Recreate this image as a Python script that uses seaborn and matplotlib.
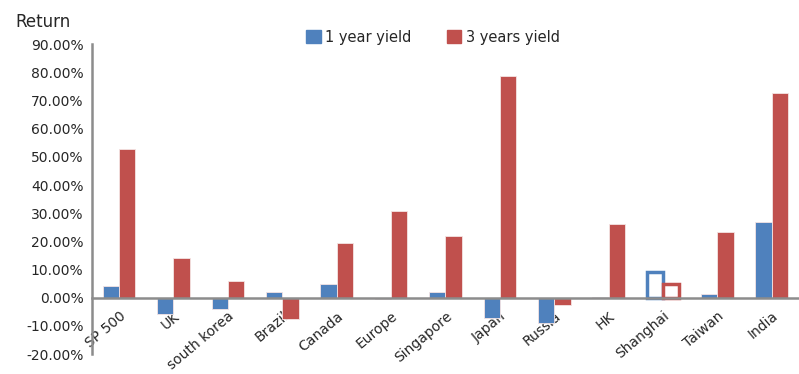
import matplotlib.pyplot as plt
import seaborn as sns
import pandas as pd

# Data (percent)
markets = ['SP 500', 'UK', 'south korea', 'Brazil', 'Canada', 'Europe', 'Singapore',
           'Japan', 'Russia', 'HK', 'Shanghai', 'Taiwan', 'India']
one_year = [4.3, -5.9, -3.9, 1.9, 5.0, -0.5, 1.9, -7.1, -9.0, 0.4, 9.0, 1.4, 26.8]
three_year = [52.9, 14.1, 6.1, -7.5, 19.6, 30.8, 22.1, 78.6, -2.6, 26.2, 5.0, 23.5, 72.8]
series = ['1 year yield', '3 years yield']
colors = ['#4F81BD', '#C0504D']
hollow = 'Shanghai'

df = pd.DataFrame({
    'market': markets * 2,
    'series': [series[0]] * len(markets) + [series[1]] * len(markets),
    'value': one_year + three_year,
})

sns.set_style('white')
plt.rcParams['font.family'] = ['DejaVu Sans']

fig = plt.figure(figsize=(7.99, 3.74), dpi=100)
ax = fig.add_axes([0.115, 0.053, 0.885, 0.829])

sns.barplot(data=df, x='market', y='value', hue='series', palette=colors, saturation=1,
            width=0.6, gap=0, ax=ax, legend=False, linewidth=0.6, edgecolor='#f4e4e4')

# hollow bars for Shanghai
idx = markets.index(hollow)
n = len(markets)
for j, c in enumerate(colors):
    p = ax.patches[j * n + idx]
    p.set_facecolor('white')
    p.set_edgecolor(c)
    p.set_linewidth(2.5)

ax.set_ylim(-20, 90)
ax.set_xlim(-0.5, n - 0.5)
ax.set_yticks(range(-20, 91, 10))
ax.set_yticklabels([f'{v:.2f}%' for v in range(-20, 91, 10)], fontsize=10)
ax.tick_params(axis='y', length=0, pad=6)

# x axis sits on zero
for s in ['top', 'right']:
    ax.spines[s].set_visible(False)
ax.spines['bottom'].set_position(('data', 0))
for s in ['left', 'bottom']:
    ax.spines[s].set_color('#8c8c8c')
    ax.spines[s].set_linewidth(1.8)
ax.spines['bottom'].set_zorder(5)

ax.set_xticks([i - 0.5 for i in range(1, n)], minor=True)
ax.tick_params(axis='x', which='minor', length=4, width=1.8, color='#8c8c8c', direction='out')
ax.tick_params(axis='x', which='major', length=0, pad=8)
ax.set_xticks(range(n))
ax.set_xticklabels(markets, rotation=40, ha='right', rotation_mode='anchor', fontsize=10)
ax.set_xlabel('')
ax.set_ylabel('')

fig.text(0.019, 0.94, 'Return', fontsize=12, ha='left', va='center')

handles = [plt.Rectangle((0, 0), 1, 1, color=c) for c in colors]
fig.legend(handles, series, loc='center', bbox_to_anchor=(0.542, 0.9), ncol=2,
           frameon=False, fontsize=10.5, handlelength=1.0, handleheight=1.0,
           handletextpad=0.3, columnspacing=2.4)

fig.savefig('out.png', dpi=100)
